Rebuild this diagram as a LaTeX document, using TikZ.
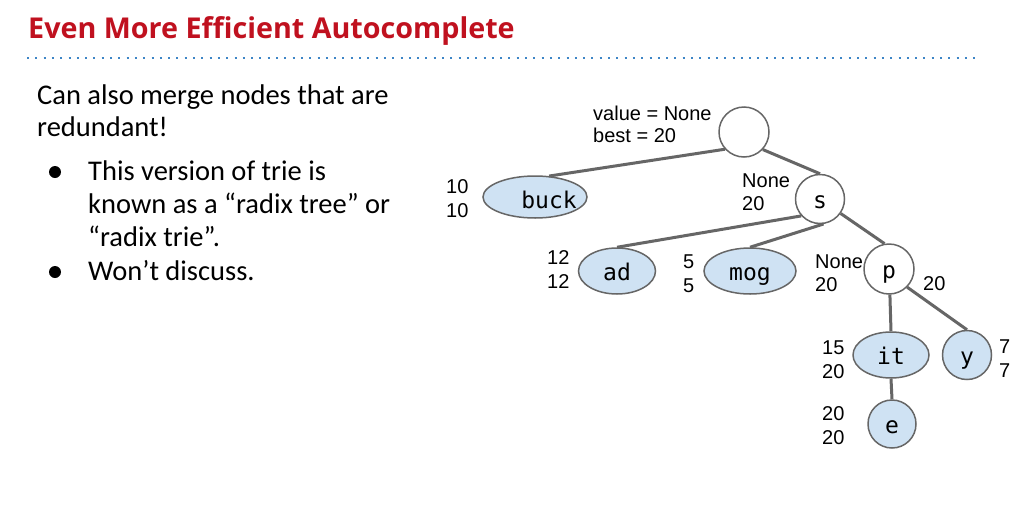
\documentclass[tikz,border=0pt]{standalone}
\usepackage{fontspec}
\setmainfont{Carlito}
\newfontfamily\titlefont{Open Sans}
\newfontfamily\labelfont{Liberation Sans}
\newfontfamily\keyfont{DejaVu Sans Mono}
\usetikzlibrary{shapes.geometric}
\definecolor{titlered}{HTML}{C0111F}
\definecolor{ruleblue}{HTML}{3D85C6}
\definecolor{edgegray}{HTML}{666666}
\definecolor{leafblue}{HTML}{CFE2F3}
\tikzset{
  titletext/.style={anchor=base west, inner sep=0pt, font=\titlefont\bfseries\fontsize{28.7}{34}\selectfont, text=titlered},
  bodytext/.style={anchor=base west, inner sep=0pt, font=\fontsize{28.5}{34}\selectfont},
  bulletdot/.style={circle, fill=black, inner sep=0pt, minimum size=12pt},
  keytext/.style={font=\keyfont\fontsize{23}{26}\selectfont, text height=18pt, text depth=0pt},
  trienode/.style={draw=edgegray, line width=1.5pt, inner sep=0pt, keytext},
  inner/.style={trienode, circle, fill=white},
  leafcircle/.style={trienode, circle, fill=leafblue},
  leafoval/.style={trienode, ellipse, fill=leafblue},
  link/.style={draw=edgegray, line width=3pt},
  info/.style={anchor=base west, inner sep=0pt, font=\labelfont\fontsize{20}{23}\selectfont},
}
\begin{document}
\begin{tikzpicture}[x=1pt, y=-1pt]
\useasboundingbox[fill=white] (0,0) rectangle (1033,517);

% heading and dotted rule
\node[titletext] (title) at (28,38) {Even More Efficient Autocomplete};
\coordinate (ruleL) at (27,57.5);
\coordinate (ruleR) at (975,57.5);
\draw[ruleblue, line width=2pt, dash pattern=on 2pt off 6.3pt] (ruleL) -- (ruleR);

% explanation text
\node[bodytext] (t1) at (37,104) {Can also merge nodes that are};
\node[bodytext] (t2) at (37,136) {redundant!};
\node[bulletdot] (b1) at (55,172) {};
\node[bodytext] (t3) at (88,180) {This version of trie is};
\node[bodytext] (t4) at (88,213) {known as a “radix tree” or};
\node[bodytext] (t5) at (88,246) {“radix trie”.};
\node[bulletdot] (b2) at (55,272) {};
\node[bodytext] (t6) at (88,280) {Won’t discuss.};

% radix trie nodes
\node[inner, minimum size=50pt] (root) at (744,132) {};
\node[inner, minimum size=49pt] (s) at (820,199) {s};
\node[leafoval, minimum width=104pt, minimum height=42pt,
      label={[keytext, xshift=14pt, yshift=-2pt]center:buck}] (buck) at (535,197) {};
\node[leafoval, minimum width=77pt, minimum height=46pt] (ad) at (617,271) {ad};
\node[leafoval, minimum width=92pt, minimum height=46pt] (mog) at (750,271) {mog};
\node[inner, minimum size=50pt] (p) at (889,269) {p};
\node[leafoval, minimum width=76pt, minimum height=46pt] (it) at (891,355) {it};
\node[leafcircle, minimum size=49pt] (y) at (967,355) {y};
\node[leafcircle, minimum size=48pt] (e) at (892,424) {e};

% edges
\draw[link] (root.222) -- (buck.56);
\draw[link] (root.-43) -- (s.north);
\draw[link] (s.222) -- (ad.north);
\draw[link] (s.-82) -- (mog.north);
\draw[link] (s.-35) -- (p.100);
\draw[link] (p.-88) -- (it.north);
\draw[link] (p.-45) -- (y.north);
\draw[link] (it.south) -- (e.north);

% value / best annotations
\node[info] (rootv) at (593,120) {value = None};
\node[info] (rootb) at (593,142) {best = 20};
\node[info] (buckv) at (446,193) {10};
\node[info] (buckb) at (446,217) {10};
\node[info] (sv) at (742,187) {None};
\node[info] (sb) at (742,210) {20};
\node[info] (adv) at (547,264) {12};
\node[info] (adb) at (547,288) {12};
\node[info] (mogv) at (683,268) {5};
\node[info] (mogb) at (683,292) {5};
\node[info] (pv) at (815,268) {None};
\node[info] (pb) at (815,291) {20};
\node[info] (pr) at (923,290) {20};
\node[info] (itv) at (822,354) {15};
\node[info] (itb) at (822,378) {20};
\node[info] (yv) at (999,353) {7};
\node[info] (yb) at (999,377) {7};
\node[info] (ev) at (822,420) {20};
\node[info] (eb) at (822,444) {20};
\end{tikzpicture}
\end{document}
